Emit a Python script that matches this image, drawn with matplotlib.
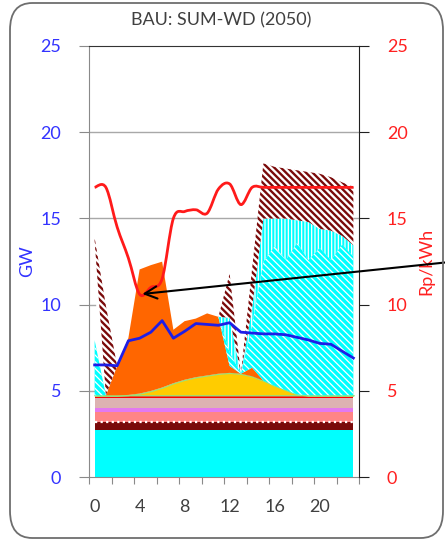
import numpy as np
import matplotlib
matplotlib.use("Agg")
import matplotlib.pyplot as plt
from matplotlib.patches import FancyBboxPatch, PathPatch
from matplotlib.path import Path

plt.rcParams['font.family'] = ['Lato', 'DejaVu Sans']

hours = np.arange(24)
tick_labels = ["0", "4", "8", "12", "16", "20"]

# constant bands at the bottom of the stack (GW)
band_cyan = [2.73] * 24
band_nuclear = [0.44] * 24
band_salmon = [0.62] * 24
band_violet = [0.2] * 24
band_rose = [0.57] * 24
band_red = [0.18] * 24

# variable supply (GW)
solar = [0, 0, 0, 0.02, 0.1, 0.25, 0.45, 0.7, 0.9, 1.05, 1.15, 1.25,
         1.3, 1.25, 1.1, 0.85, 0.55, 0.3, 0.05, 0, 0, 0, 0, 0]
storage = [0, 0, 1.7, 3.3, 7.2, 7.3, 7.3, 3.1, 3.4, 3.4, 3.6, 3.3,
           0.4, 0, 0.5, 0, 0, 0, 0, 0, 0, 0, 0, 0]
imports_a = [3.2, 0, 0, 0, 0, 0, 0, 0, 0, 0, 0, 0,
             0.8, 0, 2.5, 6.9, 8.1, 7.55, 8.8, 7.85, 8.55, 7.85, 8.75, 8.05]
imports_b = [0, 0, 0, 0, 0, 0, 0, 0, 0, 0, 0, 0,
             2.0, 0, 1.0, 2.5, 1.6, 2.4, 1.3, 2.2, 1.1, 1.7, 0.5, 0.65]
pumping = [5.75, 0, 0, 0, 0, 0, 0, 0, 0, 0, 0, 0,
           0, 0, 0, 0, 0, 0, 0, 0, 0, 0, 0, 0]
exports = [0.2, 5.2, 0, 0, 0, 0, 0, 0, 0, 0, 0, 0,
           2.56, 0, 2.26, 3.2, 3.0, 2.9, 2.9, 2.9, 3.2, 3.1, 3.1, 3.4]

# demand (GW) and price (Rp/kWh)
demand = [6.5, 6.5, 6.45, 7.9, 8.05, 8.4, 9.07, 8.05, 8.45, 8.9, 8.85, 8.8,
          8.95, 8.4, 8.35, 8.3, 8.3, 8.25, 8.1, 7.95, 7.75, 7.7, 7.3, 6.9]
price = [16.8, 16.8, 14.5, 12.7, 10.6, 11.0, 11.5, 15.0, 15.4, 15.5, 15.3, 16.7,
         17.0, 15.8, 16.8, 16.8, 16.8, 16.8, 16.8, 16.8, 16.8, 16.8, 16.8, 16.8]


def smooth_path(x, y, tension=1 / 6):
    """Cubic Bezier path through every (x, y) point, spreadsheet-style smoothing."""
    pts = np.column_stack([x, y]).astype(float)
    padded = np.vstack([pts[0], pts, pts[-1]])
    verts, codes = [pts[0]], [Path.MOVETO]
    for i in range(len(pts) - 1):
        p0, p1, p2, p3 = padded[i], padded[i + 1], padded[i + 2], padded[i + 3]
        verts += [p1 + (p2 - p0) * tension, p2 - (p3 - p1) * tension, p2]
        codes += [Path.CURVE4] * 3
    return Path(verts, codes)


W, H = 445, 541
fig = plt.figure(figsize=(W / 100, H / 100), dpi=100)
ax = fig.add_axes([89 / W, 64 / H, 270 / W, 431 / H])

MAROON = "#7A0A0A"
layers = [
    (band_cyan, dict(facecolor="#00FFFF")),
    (band_nuclear, dict(facecolor=MAROON)),
    (band_salmon, dict(facecolor="#FF8585")),
    (band_violet, dict(facecolor="#E279F0")),
    (band_rose, dict(facecolor="#DDB2B2")),
    (band_red, dict(facecolor="#FF0000")),
    (solar, dict(facecolor="#FFCC00", edgecolor="#9BE07A", linewidth=1.0)),
    (storage, dict(facecolor="#FF6600")),
    (imports_a, dict(facecolor="#00FFFF", edgecolor="white", hatch="\\" * 5), 0.9),
    (imports_b, dict(facecolor="#00FFFF", edgecolor="white", hatch="|" * 5), 0.9),
    (pumping, dict(facecolor="none")),
    (exports, dict(facecolor="white", edgecolor=MAROON, hatch="\\" * 5), 1.7),
]

bottom = np.zeros(24)
tops = []
for entry in layers:
    values, style = entry[0], entry[1]
    top = bottom + np.asarray(values, dtype=float)
    style.setdefault("linewidth", 0)
    poly = ax.fill_between(hours, bottom, top, zorder=2, **style)
    if len(entry) > 2 and hasattr(poly, "set_hatch_linewidth"):
        poly.set_hatch_linewidth(entry[2])
    tops.append(top)
    bottom = top

# dotted white seam on the dark band
ax.plot(hours, tops[1], linestyle=(0, (1, 1.5)), color="white", lw=1.6, zorder=3)

ax.plot(hours, demand, color="#1E1EE6", lw=2.0, zorder=4)

ax.set_xlim(-0.5, 23.5)
ax.set_ylim(0, 25)

# gridlines
for g in (15, 20):
    ax.axhline(g, color="#A8A8A8", lw=1.0, zorder=1)
for g in (5, 10):
    ax.axhline(g, xmax=0.5 / 24, color="#A8A8A8", lw=1.0, zorder=1)

ax.set_xticks(np.arange(-0.5, 24, 2))
ax.set_xticklabels([])
ax.set_xticks([0, 4, 8, 12, 16, 20], minor=True)
ax.set_xticklabels(tick_labels, minor=True)
ax.tick_params(axis="x", which="major", length=5, color="#8A8A8A", direction="out")
ax.tick_params(axis="x", which="minor", length=0, pad=16, labelsize=13, labelcolor="#404040")

ax.set_yticks([0, 5, 10, 15, 20, 25])
ax.tick_params(axis="y", length=7, color="#8A8A8A", labelsize=13, labelcolor="#3333FF", pad=13)
ax.set_ylabel("GW", color="#3333FF", fontsize=13)
ax.yaxis.set_label_coords(-0.2, 0.5)

for side in ("left", "bottom"):
    ax.spines[side].set_color("#8A8A8A")
ax.spines["top"].set_color("#333333")
ax.spines["right"].set_visible(False)

ax2 = ax.twinx()
ax2.set_ylim(0, 25)
ax2.set_yticks([0, 5, 10, 15, 20, 25])
ax2.add_patch(PathPatch(smooth_path(hours, price), facecolor="none",
                        edgecolor="#FF1A1A", lw=2.0, zorder=5))
ax2.tick_params(axis="y", length=7, color="#202020", labelsize=13, labelcolor="#FF2020", pad=13)
ax2.set_ylabel("Rp/kWh", color="#FF2020", fontsize=13)
ax2.yaxis.set_label_coords(1.22, 0.5)
for side in ("left", "top", "bottom"):
    ax2.spines[side].set_visible(False)
ax2.spines["right"].set_color("#202020")

fig.text(221 / W, 1 - 20 / H, "BAU: SUM-WD (2050)", ha="center", va="center",
         fontsize=13, color="#404040")

ax2.annotate("", xy=(4, price[4]), xycoords="data",
             xytext=(450, H - 262), textcoords="figure pixels",
             arrowprops=dict(arrowstyle="->", color="black", lw=1.5,
                             mutation_scale=22),
             annotation_clip=False, zorder=6)

frame = FancyBboxPatch((10 / W, 3 / H), 433 / W, 535 / H,
                       boxstyle="round,pad=0,rounding_size=0.05",
                       transform=fig.transFigure, facecolor="none",
                       edgecolor="#6E6E6E", lw=1.3)
fig.patches.append(frame)

fig.savefig("out.png", dpi=100)
